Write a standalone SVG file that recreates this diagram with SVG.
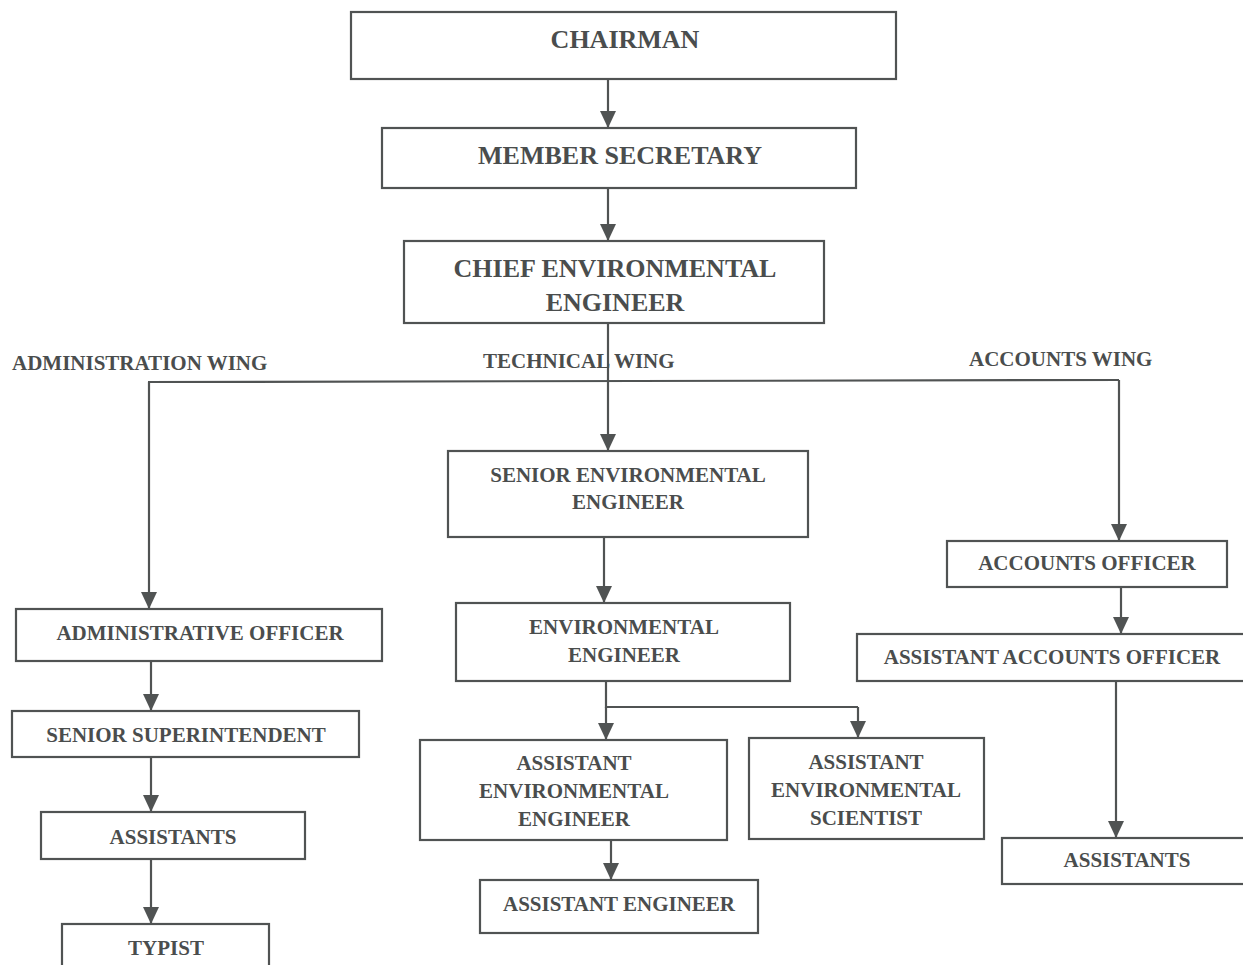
<svg xmlns="http://www.w3.org/2000/svg" width="1243" height="965" viewBox="0 0 1243 965">
<style>
.box{fill:#ffffff;stroke:#505353;stroke-width:2.2}
.t{font-family:"Liberation Serif","Times New Roman",serif;font-weight:bold;fill:#4a4d4d;text-anchor:middle}
.big{font-size:26px}
.mid{font-size:21px}
.lbl{font-family:"Liberation Serif","Times New Roman",serif;font-weight:bold;fill:#4a4d4d;font-size:21px}
.c{fill:none;stroke:#505353;stroke-width:2.2}
.ca{fill:none;stroke:#505353;stroke-width:2.2;marker-end:url(#arr)}
</style>
<defs>
<marker id="arr" markerUnits="userSpaceOnUse" markerWidth="17" markerHeight="16" refX="17" refY="8" orient="auto">
<path d="M0,0 L17,8 L0,16 z" fill="#505353"/>
</marker>
</defs>
<rect width="1243" height="965" fill="#ffffff"/>
<g id="connectors">
<path class="ca" d="M608,79 V128"/>
<path class="ca" d="M608,188 V241"/>
<path class="ca" d="M608,323 V451"/>
<path class="c" d="M148,382 L1119,380"/>
<path class="ca" d="M149,382 V609"/>
<path class="ca" d="M1119,380 V541"/>
<path class="ca" d="M604,537 V603"/>
<path class="c" d="M606,681 V707 H858"/>
<path class="ca" d="M606,707 V740"/>
<path class="ca" d="M858,707 V738"/>
<path class="ca" d="M611,840 V880"/>
<path class="ca" d="M151,661 V711"/>
<path class="ca" d="M151,757 V812"/>
<path class="ca" d="M151,859 V924"/>
<path class="ca" d="M1121,587 V634"/>
<path class="ca" d="M1116,681 V838"/>
</g>
<g id="labels">
<text class="lbl" x="12" y="370">ADMINISTRATION WING</text>
<text class="lbl" x="483" y="368">TECHNICAL WING</text>
<text class="lbl" x="969" y="366">ACCOUNTS WING</text>
</g>
<g id="chairman">
<rect class="box" x="351" y="12" width="545" height="67"/>
<text class="t big" x="625" y="48">CHAIRMAN</text>
</g>
<g id="member-secretary">
<rect class="box" x="382" y="128" width="474" height="60"/>
<text class="t big" x="620" y="164">MEMBER SECRETARY</text>
</g>
<g id="chief-environmental-engineer">
<rect class="box" x="404" y="241" width="420" height="82"/>
<text class="t big" x="615" y="277">CHIEF ENVIRONMENTAL</text>
<text class="t big" x="615" y="311">ENGINEER</text>
</g>
<g id="senior-environmental-engineer">
<rect class="box" x="448" y="451" width="360" height="86"/>
<text class="t mid" x="628" y="482">SENIOR ENVIRONMENTAL</text>
<text class="t mid" x="628" y="509">ENGINEER</text>
</g>
<g id="environmental-engineer">
<rect class="box" x="456" y="603" width="334" height="78"/>
<text class="t mid" x="624" y="634">ENVIRONMENTAL</text>
<text class="t mid" x="624" y="662">ENGINEER</text>
</g>
<g id="assistant-environmental-engineer">
<rect class="box" x="420" y="740" width="307" height="100"/>
<text class="t mid" x="574" y="770">ASSISTANT</text>
<text class="t mid" x="574" y="798">ENVIRONMENTAL</text>
<text class="t mid" x="574" y="826">ENGINEER</text>
</g>
<g id="assistant-environmental-scientist">
<rect class="box" x="749" y="738" width="235" height="101"/>
<text class="t mid" x="866" y="769">ASSISTANT</text>
<text class="t mid" x="866" y="797">ENVIRONMENTAL</text>
<text class="t mid" x="866" y="825">SCIENTIST</text>
</g>
<g id="assistant-engineer">
<rect class="box" x="480" y="880" width="278" height="53"/>
<text class="t mid" x="619" y="911">ASSISTANT ENGINEER</text>
</g>
<g id="administrative-officer">
<rect class="box" x="16" y="609" width="366" height="52"/>
<text class="t mid" x="200" y="640">ADMINISTRATIVE OFFICER</text>
</g>
<g id="senior-superintendent">
<rect class="box" x="12" y="711" width="347" height="46"/>
<text class="t mid" x="186" y="742">SENIOR SUPERINTENDENT</text>
</g>
<g id="assistants-admin">
<rect class="box" x="41" y="812" width="264" height="47"/>
<text class="t mid" x="173" y="844">ASSISTANTS</text>
</g>
<g id="typist">
<rect class="box" x="62" y="924" width="207" height="60"/>
<text class="t mid" x="166" y="955">TYPIST</text>
</g>
<g id="accounts-officer">
<rect class="box" x="947" y="541" width="280" height="46"/>
<text class="t mid" x="1087" y="570">ACCOUNTS OFFICER</text>
</g>
<g id="assistant-accounts-officer">
<rect class="box" x="857" y="634" width="400" height="47"/>
<text class="t mid" x="1052" y="664">ASSISTANT ACCOUNTS OFFICER</text>
</g>
<g id="assistants-accounts">
<rect class="box" x="1002" y="838" width="260" height="46"/>
<text class="t mid" x="1127" y="867">ASSISTANTS</text>
</g>
</svg>
